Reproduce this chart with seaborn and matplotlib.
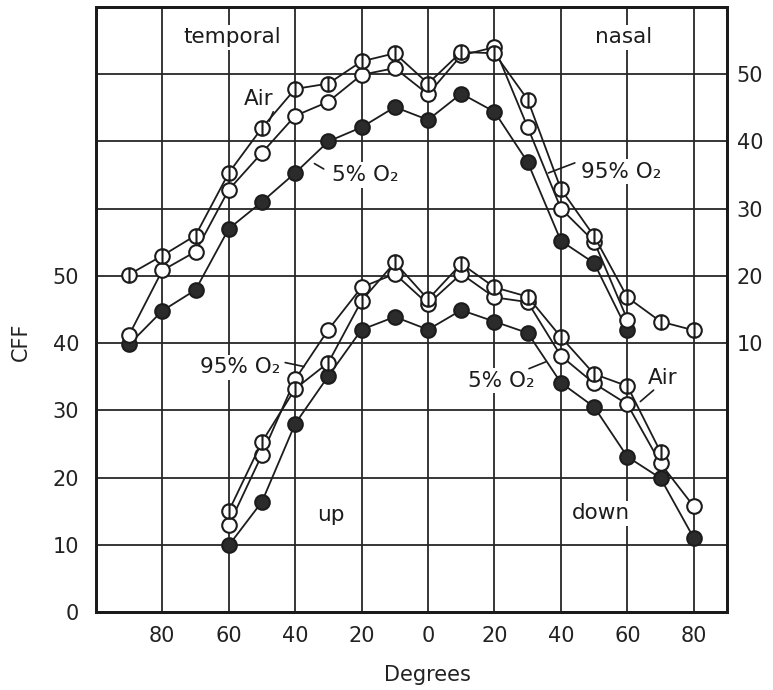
import numpy as np
import pandas as pd
import matplotlib
matplotlib.use("Agg")
import matplotlib.pyplot as plt
import seaborn as sns
from matplotlib.path import Path

# ---- Horizontal meridian (temporal = left, nasal = right), right-hand CFF scale ----
horiz_deg_air = [-90, -80, -70, -60, -50, -40, -30, -20, -10, 0, 10, 20, 30, 40, 50, 60, 70, 80]
horiz_air = [20.2, 23.0, 26.0, 35.3, 42.0, 47.8, 48.6, 51.9, 53.1, 48.6, 53.3, 53.1,
             46.2, 32.9, 25.9, 16.8, 13.2, 11.9]
horiz_deg = [-90, -80, -70, -60, -50, -40, -30, -20, -10, 0, 10, 20, 30, 40, 50, 60]
horiz_o2_95 = [11.2, 20.8, 23.6, 32.8, 38.3, 43.8, 45.9, 49.9, 50.9, 47.0, 52.8, 54.0,
               42.1, 30.0, 25.1, 13.5]
horiz_o2_5 = [9.8, 14.8, 17.9, 27.0, 31.0, 35.3, 40.0, 42.1, 45.1, 43.2, 47.1, 44.4,
              36.9, 25.2, 21.9, 11.9]

# ---- Vertical meridian (up = left, down = right), left-hand CFF scale ----
vert_deg_air = [-60, -50, -40, -30, -20, -10, 0, 10, 20, 30, 40, 50, 60, 70]
vert_air = [15.0, 25.3, 33.2, 37.1, 46.3, 52.0, 46.5, 51.8, 48.3, 46.9, 40.9, 35.4, 33.6, 23.8]
vert_deg = [-60, -50, -40, -30, -20, -10, 0, 10, 20, 30, 40, 50, 60, 70, 80]
vert_o2_95 = [12.9, 23.4, 34.6, 42.0, 48.3, 50.3, 45.8, 50.3, 46.8, 46.1, 38.1, 34.0,
              30.9, 22.1, 15.7]
vert_o2_5 = [9.9, 16.4, 28.0, 35.1, 42.0, 43.9, 42.0, 44.9, 43.2, 41.5, 34.1, 30.5,
             23.1, 19.9, 11.0]

x_ticks = [-80, -60, -40, -20, 0, 20, 40, 60, 80]
left_ticks = [0, 10, 20, 30, 40, 50]
right_ticks = [10, 20, 30, 40, 50]

sns.set_style("white")
plt.rcParams["font.family"] = ["DejaVu Sans"]

fig = plt.figure(figsize=(7.73, 6.90), dpi=100)
ax = fig.add_axes([0.124, 0.113, 0.8165, 0.877])
ax2 = ax.twinx()

# circle with a vertical bar for the air-breathing condition
circ = Path.unit_circle()
phi = Path(np.concatenate([circ.vertices, [[0, -1], [0, 1]]]),
           np.concatenate([circ.codes, [Path.MOVETO, Path.LINETO]]))

styles = {
    "air": dict(marker=phi, markerfacecolor="white"),
    "o95": dict(marker="o", markerfacecolor="white"),
    "o5": dict(marker="o", markerfacecolor="#2b2b2b"),
}
common = dict(color="#1c1c1c", lw=1.3, markersize=10.5, markeredgecolor="#1c1c1c",
              markeredgewidth=1.5, sort=False, legend=False)

def draw(axis, xs, ys, key, z):
    df = pd.DataFrame({"deg": xs, "cff": ys})
    sns.lineplot(data=df, x="deg", y="cff", ax=axis, zorder=z, **styles[key], **common)

draw(ax2, horiz_deg, horiz_o2_5, "o5", 3)
draw(ax2, horiz_deg, horiz_o2_95, "o95", 4)
draw(ax2, horiz_deg_air, horiz_air, "air", 5)
draw(ax, vert_deg, vert_o2_5, "o5", 3)
draw(ax, vert_deg, vert_o2_95, "o95", 4)
draw(ax, vert_deg_air, vert_air, "air", 5)

ax.set_xlim(-100, 90)
ax.set_ylim(0, 90)
ax2.set_ylim(-30, 60)

# grid every 20 deg / 10 units
ax.set_xticks(x_ticks)
ax.set_xticklabels([str(abs(v)) for v in x_ticks])
ax.set_yticks(list(range(0, 90, 10)))
ax.set_yticklabels([str(v) if v in left_ticks else "" for v in range(0, 90, 10)])
ax.grid(True, color="#262626", lw=1.3)
ax.set_axisbelow(True)
ax2.set_yticks(right_ticks)
ax2.set_yticklabels([str(v) for v in right_ticks])
ax2.grid(False)
ax2.set_ylabel("")
ax2.set_xlabel("")

for a in (ax, ax2):
    a.tick_params(length=0, labelsize=15, colors="#222222")
    for s in a.spines.values():
        s.set_linewidth(2.0)
        s.set_color("#1a1a1a")
ax.tick_params(axis="y", pad=12)
ax.tick_params(axis="x", pad=10)
ax2.tick_params(axis="y", pad=7)

ax.set_xlabel("Degrees", fontsize=15, color="#222222")
ax.set_ylabel("CFF", fontsize=15, color="#222222")
ax.xaxis.set_label_coords(0.525, -0.088)
ax.yaxis.set_label_coords(-0.103, 0.446)

box = dict(boxstyle="square,pad=0.12", fc="white", ec="none")

def label(x, y, s, leader=None):
    ax.text(x, y, s, fontsize=15.5, ha="center", va="center", color="#1c1c1c",
            bbox=box, zorder=6)
    if leader is not None:
        (x0, y0), (x1, y1) = leader
        ax.plot([x0, x1], [y0, y1], color="#1c1c1c", lw=1.2, zorder=6)

label(-59, 85.5, "temporal")
label(59, 85.5, "nasal")
label(-51, 76.3, "Air", ((-46.6, 74.4), (-47.8, 73.0)))
label(-19.0, 65.0, "5% O\u2082", ((-34.2, 66.7), (-31.4, 65.9)))
label(58.0, 65.5, "95% O\u2082", ((36.2, 65.3), (44.2, 66.8)))
label(-56.7, 36.4, "95% O\u2082", ((-43.0, 37.1), (-37.3, 36.5)))
label(22.0, 34.4, "5% O\u2082", ((30.4, 36.2), (35.4, 37.2)))
label(70.5, 34.8, "Air", ((67.9, 33.0), (63.9, 31.3)))
label(-29.4, 14.4, "up")
label(52.0, 14.7, "down")

fig.savefig("out.png", dpi=100)
